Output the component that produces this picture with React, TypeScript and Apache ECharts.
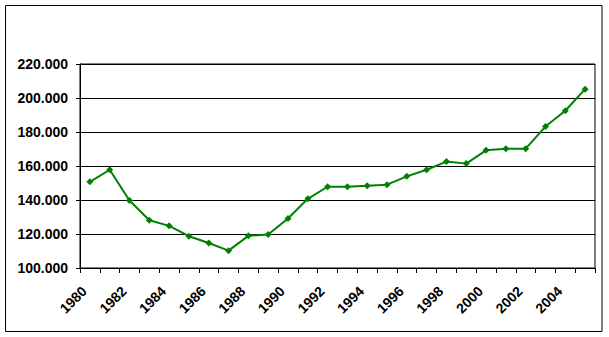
import React, { useEffect, useRef } from "react";
import * as echarts from "echarts";

const years = [
  "1980", "1981", "1982", "1983", "1984", "1985", "1986", "1987", "1988", "1989",
  "1990", "1991", "1992", "1993", "1994", "1995", "1996", "1997", "1998", "1999",
  "2000", "2001", "2002", "2003", "2004", "2005",
];

const values = [
  150700, 157800, 139700, 128100, 124800, 118700, 114700, 110200, 118900, 119700,
  129100, 140700, 147800, 147800, 148400, 149000, 153900, 157800, 162600, 161400,
  169200, 170200, 170200, 183200, 192500, 205200,
];

const yMin = 100000;
const yMax = 220000;
const yStep = 20000;

function formatThousands(v: number): string {
  const s = Math.round(v).toString();
  return s.replace(/\B(?=(\d{3})+(?!\d))/g, ".");
}

export default function App() {
  const ref = useRef<HTMLDivElement>(null);

  useEffect(() => {
    if (!ref.current) return;
    const chart = echarts.init(ref.current, null, { renderer: "svg" });
    const font = "'Liberation Sans', Arial, sans-serif";
    chart.setOption({
      animation: false,
      backgroundColor: "#ffffff",
      graphic: [
        {
          type: "rect",
          shape: { x: 5.5, y: 5.5, width: 596.5, height: 326 },
          style: { fill: "none", stroke: "#000000", lineWidth: 1 },
          silent: true,
        },
      ],
      grid: {
        left: 80,
        right: 14,
        top: 64,
        bottom: 69,
        show: true,
        borderColor: "#000000",
        borderWidth: 1,
        backgroundColor: "transparent",
      },
      xAxis: {
        type: "category",
        data: years,
        boundaryGap: true,
        axisLine: { show: true, lineStyle: { color: "#000000", width: 1 } },
        axisTick: {
          show: true,
          interval: 0,
          length: 5,
          alignWithLabel: false,
          lineStyle: { color: "#000000" },
        },
        axisLabel: {
          interval: 1,
          rotate: 45,
          margin: 15,
          padding: [0, 8, 0, 0],
          color: "#000000",
          fontFamily: font,
          fontWeight: "bold",
          fontSize: 14,
        },
        splitLine: { show: false },
      },
      yAxis: {
        type: "value",
        min: yMin,
        max: yMax,
        interval: yStep,
        axisLine: { show: true, lineStyle: { color: "#000000", width: 1 } },
        axisTick: { show: true, length: 4, lineStyle: { color: "#000000" } },
        axisLabel: {
          margin: 12,
          color: "#000000",
          fontFamily: font,
          fontWeight: "bold",
          fontSize: 14,
          formatter: (v: number) => formatThousands(v),
        },
        splitLine: { show: true, lineStyle: { color: "#000000", width: 1 } },
      },
      series: [
        {
          type: "line",
          data: values,
          symbol: "diamond",
          symbolSize: 7,
          showSymbol: true,
          lineStyle: { color: "#008000", width: 2 },
          itemStyle: { color: "#008000" },
        },
      ],
    });
    return () => chart.dispose();
  }, []);

  return (
    <div
      ref={ref}
      style={{ position: "absolute", left: 0, top: 0, width: 609, height: 337 }}
    />
  );
}
